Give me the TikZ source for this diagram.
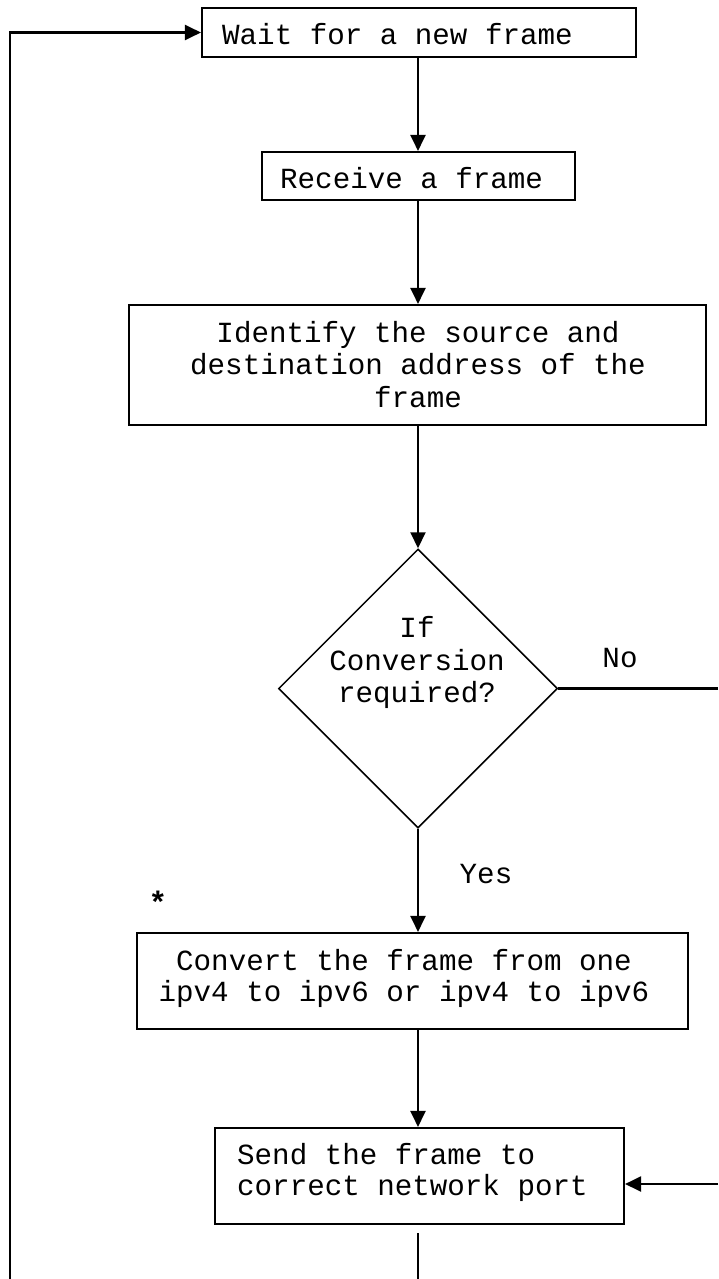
\documentclass[tikz,border=0pt]{standalone}
\usepackage{fontspec}
\newfontfamily\cour{Liberation Mono}
\usetikzlibrary{arrows.meta,shapes.geometric}
\tikzset{
  boxnode/.style={draw, line width=2.1pt, rectangle, inner sep=0pt},
  decnode/.style={draw, line width=1.5pt, diamond, inner sep=0pt},
  txt/.style={inner sep=0pt, font=\cour\fontsize{29.2}{33}\selectfont},
  conn/.style={line width=2.1pt},
  arr/.style={conn, -{Triangle[length=16pt,width=15pt]}}
}
\begin{document}
\begin{tikzpicture}[x=1pt,y=-1pt]
\useasboundingbox (0,0) rectangle (718,1279);
% boxes
\node[boxnode, minimum width=434pt, minimum height=49pt] (b1) at (419,32.5) {};
\node[boxnode, minimum width=313pt, minimum height=48pt] (b2) at (418.5,176) {};
\node[boxnode, minimum width=577pt, minimum height=120pt] (b3) at (417.5,365) {};
\node[decnode, minimum width=279pt, minimum height=279pt] (d) at (418,688.5) {};
\node[boxnode, minimum width=551pt, minimum height=96pt] (b4) at (412.5,981) {};
\node[boxnode, minimum width=409pt, minimum height=96pt] (b5) at (419.5,1176) {};
% texts
\node[txt, anchor=base west] (t1) at (222,45) {Wait for a new frame};
\node[txt, anchor=base west] (t2) at (280,188) {Receive a frame};
\node[txt, anchor=base] (t3a) at (418,342) {Identify the source and};
\node[txt, anchor=base] (t3b) at (418,374) {destination address of the};
\node[txt, anchor=base] (t3c) at (418,407) {frame};
\node[txt, anchor=base] (tda) at (417,637) {If};
\node[txt, anchor=base] (tdb) at (417,670) {Conversion};
\node[txt, anchor=base] (tdc) at (417,702) {required?};
\node[txt, anchor=base] (t4a) at (404,970) {Convert the frame from one};
\node[txt, anchor=base] (t4b) at (404,1001) {ipv4 to ipv6 or ipv4 to ipv6};
\node[txt, anchor=base west] (t5a) at (237,1164) {Send the frame to};
\node[txt, anchor=base west] (t5b) at (237,1195) {correct network port};
\node[txt, anchor=base] (no) at (620,667) {No};
\node[txt, anchor=base] (yes) at (486,883) {Yes};
\node[txt, font=\cour\bfseries\fontsize{31}{33}\selectfont] (star) at (158,902) {*};
% free ends
\coordinate (lb) at (10,1279);
\coordinate (ne) at (718,688.5);
\coordinate (se) at (718,1184);
\coordinate (bt) at (418,1279);
% connectors
\draw[arr] (b1.south -| d.north) -- (b2.north -| d.north);
\draw[arr] (b2.south -| d.north) -- (b3.north -| d.north);
\draw[arr] (b3.south -| d.north) -- (d.north);
\draw[arr] (d.south) -- (b4.north -| d.south);
\draw[arr] (b4.south -| d.south) -- (b5.north -| d.south);
\draw[conn] (d.east) -- (ne);
\draw[arr] (se) -- (se -| b5.east);
\draw[conn] ([yshift=-8pt]b5.south -| d.south) -- (bt);
\draw[arr] (lb) |- (b1.west);
\end{tikzpicture}
\end{document}
